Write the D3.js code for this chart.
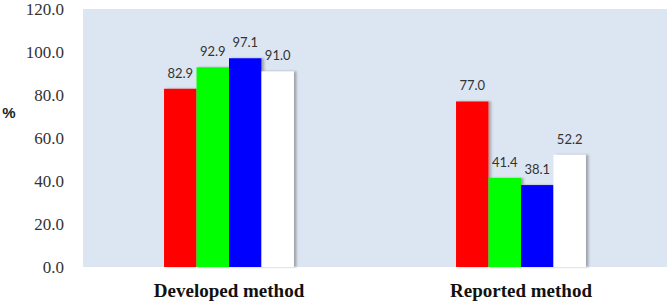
<!DOCTYPE html>
<html>
<head>
<meta charset="utf-8">
<script src="https://cdn.jsdelivr.net/npm/d3@7"></script>
<style>
  body { margin: 0; background: #fff; }
  svg { display: block; }
</style>
</head>
<body>
<svg id="graph" width="669" height="303"></svg>
<script>
const methods = ["Developed method", "Reported method"]
const series = ["a", "b", "c", "d"]
const colors = ["#ff0000", "#00ff00", "#0000ff", "#ffffff"]
const developed = [82.9, 92.9, 97.1, 91.0]
const reported = [77.0, 41.4, 38.1, 52.2]
const y_ticks = [0, 20, 40, 60, 80, 100, 120]

const values = [developed, reported]

const marginTop = 9
const marginBottom = 36
const marginLeft = 83
const marginRight = 2
const width = 669
const height = 303

const svg = d3.select("#graph")

// drop shadow like the excel bars
const defs = svg.append("defs")
defs.append("filter")
  .attr("id", "shadow")
  .attr("x", "-20%").attr("y", "-5%")
  .attr("width", "140%").attr("height", "110%")
  .append("feDropShadow")
  .attr("dx", 2.5)
  .attr("dy", 0)
  .attr("stdDeviation", 1.2)
  .attr("flood-color", "#555")
  .attr("flood-opacity", 0.45)

const x0 = d3.scaleBand()
  .domain(methods)
  .range([marginLeft, width - marginRight])
  .paddingInner(0.555)
  .paddingOuter(0.2775)

const x1 = d3.scaleBand()
  .domain(series)
  .range([0, x0.bandwidth()])

const y = d3.scaleLinear()
  .domain([0, 120])
  .range([height - marginBottom, marginTop])

// plot background
svg.append("rect")
  .attr("x", marginLeft)
  .attr("y", y(120))
  .attr("width", width - marginRight - marginLeft)
  .attr("height", y(0) - y(120))
  .attr("fill", "#dce6f2")

// y axis labels
svg.append("g")
  .attr("transform", `translate(${marginLeft - 16},0)`)
  .call(d3.axisLeft(y).tickValues(y_ticks).tickFormat(d3.format(".1f")).tickSize(0))
  .call(g => g.select(".domain").remove())
  .call(g => g.selectAll("text")
    .attr("dy", "0.34em")
    .style("font-family", "'Liberation Serif', serif")
    .style("font-size", "17px")
    .style("fill", "#333"))

svg.append("text")
  .attr("x", 9)
  .attr("y", 113)
  .attr("dy", "0.35em")
  .attr("text-anchor", "middle")
  .attr("font-family", "'Liberation Sans', Arial, sans-serif")
  .attr("font-weight", "bold")
  .attr("font-size", 15)
  .attr("fill", "#222")
  .text("%")

// bars
const groups = svg.append("g")
  .selectAll("g")
  .data(methods)
  .join("g")
  .attr("transform", d => `translate(${x0(d)},0)`)

groups.selectAll("rect")
  .data((d, i) => values[i].map((v, j) => ({ key: series[j], value: v, color: colors[j] })))
  .join("rect")
  .attr("x", d => x1(d.key))
  .attr("y", d => y(d.value))
  .attr("width", x1.bandwidth())
  .attr("height", d => y(0) - y(d.value))
  .attr("fill", d => d.color)
  .attr("filter", "url(#shadow)")

groups.selectAll("text")
  .data((d, i) => values[i].map((v, j) => ({ key: series[j], value: v })))
  .join("text")
  .attr("x", d => x1(d.key) + x1.bandwidth() / 2)
  .attr("y", d => y(d.value) - 11)
  .attr("text-anchor", "middle")
  .attr("font-family", "Lato, 'Liberation Sans', sans-serif")
  .attr("font-size", 13)
  .attr("fill", "#333")
  .text(d => d.value.toFixed(1))

// category labels
svg.append("g")
  .selectAll("text")
  .data(methods)
  .join("text")
  .attr("x", d => x0(d) + x0.bandwidth() / 2)
  .attr("y", 297)
  .attr("text-anchor", "middle")
  .attr("font-family", "'Liberation Serif', 'Times New Roman', serif")
  .attr("font-weight", "bold")
  .attr("font-size", 19)
  .attr("fill", "#111")
  .text(d => d)
</script>
</body>
</html>
